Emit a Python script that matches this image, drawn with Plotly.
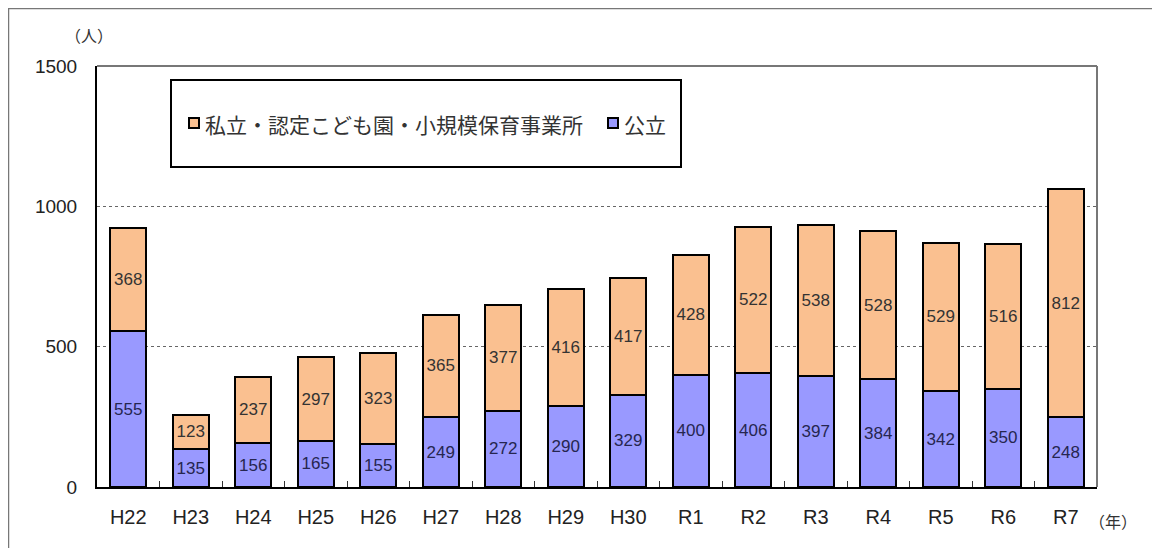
import plotly.graph_objects as go

years = ["H22", "H23", "H24", "H25", "H26", "H27", "H28", "H29", "H30",
         "R1", "R2", "R3", "R4", "R5", "R6", "R7"]
public = [555, 135, 156, 165, 155, 249, 272, 290, 329, 400, 406, 397, 384, 342, 350, 248]
private = [368, 123, 237, 297, 323, 365, 377, 416, 417, 428, 522, 538, 528, 529, 516, 812]
name_public = "公立"
name_private = "私立・認定こども園・小規模保育事業所"
y_ticks = [0, 500, 1000, 1500]

col_public = "#9999FF"
col_private = "#FAC090"

# page body has an 8px margin; positions below are given in page pixels
OFF = 8
W, H = 1152, 540
L, R, T, B = 97 - OFF, 1152 - (1097 - OFF), 66 - OFF, 540 - (487 - OFF)
pw, ph = W - L - R, H - T - B


def px(x):
    return (x - OFF - L) / pw


def py(y):
    return (H - B - (y - OFF)) / ph


jp = "Noto Sans CJK JP, sans-serif"
num = "Liberation Sans, Arial, sans-serif"

fig = go.Figure()
fig.add_trace(go.Bar(
    x=years, y=public, name=name_public,
    marker=dict(color=col_public, line=dict(color="#000000", width=2)),
    text=public, textposition="inside", insidetextanchor="middle",
    textangle=0, constraintext="none",
    textfont=dict(family=num, size=17, color="#26264f"),
    width=0.58,
))
fig.add_trace(go.Bar(
    x=years, y=private, name=name_private,
    marker=dict(color=col_private, line=dict(color="#000000", width=2)),
    text=private, textposition="inside", insidetextanchor="middle",
    textangle=0, constraintext="none",
    textfont=dict(family=num, size=17, color="#333333"),
    width=0.58,
))

shapes = [
    # plot area top and right border
    dict(type="line", xref="paper", yref="paper", x0=0, x1=1, y0=1, y1=1,
         line=dict(color="#777777", width=2)),
    dict(type="line", xref="paper", yref="paper", x0=1, x1=1, y0=0, y1=1,
         line=dict(color="#777777", width=2)),
    # legend box
    dict(type="rect", xref="paper", yref="paper",
         x0=px(171), x1=px(681), y0=py(167), y1=py(80),
         line=dict(color="#000000", width=2), layer="above"),
    # legend markers
    dict(type="rect", xref="paper", yref="paper",
         x0=px(189), x1=px(199), y0=py(128), y1=py(118),
         fillcolor=col_private, line=dict(color="#000000", width=2), layer="above"),
    dict(type="rect", xref="paper", yref="paper",
         x0=px(608), x1=px(618), y0=py(128), y1=py(118),
         fillcolor=col_public, line=dict(color="#000000", width=2), layer="above"),
    # outer frame
    dict(type="rect", xref="paper", yref="paper",
         x0=px(8.5), x1=px(1158.5), y0=py(570), y1=py(8.5),
         line=dict(color="#777777", width=1.5)),
]

annotations = [
    dict(text=name_private, xref="paper", yref="paper", x=px(203), y=py(124),
         showarrow=False, font=dict(family=jp, size=21, color="#333333"),
         xanchor="left", yanchor="middle"),
    dict(text=name_public, xref="paper", yref="paper", x=px(622), y=py(124),
         showarrow=False, font=dict(family=jp, size=21, color="#333333"),
         xanchor="left", yanchor="middle"),
    dict(text="（人）", xref="paper", yref="paper", x=px(89), y=py(35),
         showarrow=False, font=dict(family=jp, size=16, color="#333333"),
         xanchor="center", yanchor="middle"),
    dict(text="（年）", xref="paper", yref="paper", x=px(1113), y=py(521),
         showarrow=False, font=dict(family=jp, size=16, color="#333333"),
         xanchor="center", yanchor="middle"),
]

fig.update_layout(
    width=W, height=H,
    margin=dict(l=L, r=R, t=T, b=B, autoexpand=False),
    barmode="stack",
    plot_bgcolor="white", paper_bgcolor="white",
    showlegend=False,
    xaxis=dict(
        showline=True, linecolor="#000000", linewidth=2,
        ticks="inside", tickson="boundaries", ticklen=6, tickcolor="#333333",
        tickfont=dict(family=num, size=20, color="#222222"),
        ticklabelstandoff=11,
        showgrid=False, fixedrange=True,
    ),
    yaxis=dict(
        range=[0, 1500], tickvals=y_ticks,
        showline=True, linecolor="#000000", linewidth=2,
        showgrid=True, gridcolor="#666666", griddash="dot", gridwidth=1,
        tickfont=dict(family=num, size=19, color="#222222"),
        ticks="", ticklabelstandoff=14,
        zeroline=False, fixedrange=True,
    ),
    shapes=shapes,
    annotations=annotations,
)

fig.write_html("out.html")
